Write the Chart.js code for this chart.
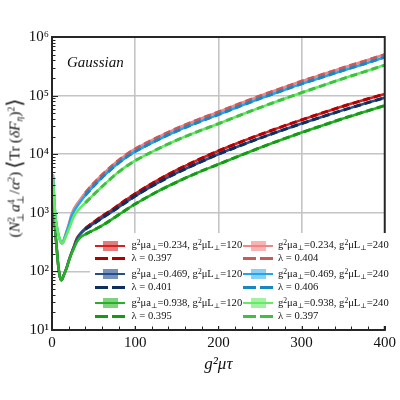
<!DOCTYPE html>
<html><head><meta charset="utf-8">
<script src="https://cdn.jsdelivr.net/npm/chart.js@4.4.0/dist/chart.umd.min.js"></script>
<style>
html,body{margin:0;padding:0;background:#fff;}
#wrap{position:relative;width:400px;height:400px;overflow:hidden;font-family:'Liberation Serif','DejaVu Serif',serif;color:#111;}
canvas{position:absolute;left:0;top:0;}
.ov{position:absolute;white-space:nowrap;color:#111;}
#ytitle{left:15px;top:168px;font-size:15.5px;transform:translate(-50%,-50%) rotate(-90deg);transform-origin:50% 50%;}
#ytitle .st{display:inline-flex;flex-direction:column;vertical-align:middle;font-size:0.62em;line-height:0.95;margin:0 1px 0 0;}
#ytitle sup{font-size:0.62em;vertical-align:0.5em;line-height:0;}
#ytitle sub{font-size:0.62em;vertical-align:-0.3em;line-height:0;}
#ytitle .big{font-size:1.35em;vertical-align:-0.1em;}
#gauss{left:67px;top:54px;font-size:15px;font-style:italic;}
#legend{position:absolute;left:90px;top:233px;width:296px;height:93px;background:#fff;}
.lt{position:absolute;font-size:10.6px;line-height:12px;white-space:nowrap;}
.lt sup{font-size:0.72em;vertical-align:0.45em;line-height:0;}
.lt sub{font-size:0.65em;vertical-align:-0.3em;line-height:0;}
.pb{position:absolute;}
</style></head><body>
<div id="wrap"><canvas id="c" width="400" height="400"></canvas>
<div id="ytitle" class="ov">(<i>N</i><span class="st"><span>2</span><span>⊥</span></span><i>a</i><span class="st"><span>4</span><span>⊥</span></span>/<i>α</i><sup>2</sup>)&thinsp;<span class="big">⟨</span>Tr&thinsp;(<i>δF</i><sub><i>η</i></sub>)<sup>2</sup><span class="big">⟩</span></div>
<div id="gauss" class="ov">Gaussian</div>
<div id="legend"></div>
</div>
<script>
// ---- data ----
const xs = [1,2,3,4,5,6,7,8,9,10,11,12,13,14,16,18,20,23,26,30,35,40,50,60,70,80,90,100,125,150,175,200,225,250,275,300,325,350,375,400];
const xsFit = [40,50,60,70,80,90,100,125,150,175,200,225,250,275,300,325,350,375,400];

// L=120 group
const red120 = [4000,1800,800,480,320,220,150,110,88,76,71,73,78,85,100,120,150,200,260,370,460,540,690,871,1072,1349,1698,2113,3467,5370,7943,11350,15800,21600,29000,38500,50600,65800,84100,107000];
const blue120 = [4000,1800,800,480,320,220,150,110,88,76,71,73,78,85,100,120,149,198,255,360,450,525,650,813,1000,1245,1549,1928,3126,4786,7000,10000,13800,18800,25200,33300,43600,56500,72300,92000];
const green120 = [4000,1800,800,480,320,220,150,110,88,76,71,73,78,85,99,118,146,192,240,320,390,430,505,603,741,923,1148,1413,2239,3350,4842,6730,9330,12900,17500,23400,30900,40700,52500,67600];
// L=240 group
const pink240 = [4500,2500,1400,880,680,560,470,410,365,332,312,303,309,339,417,513,631,891,1148,1413,1778,2188,3162,4416,5957,7852,10000,12300,18840,27540,38460,52480,72440,98850,131800,175800,229100,298500,384600,501200];
const lblue240 = [4500,2500,1400,880,680,560,470,410,365,332,312,303,309,335,403,490,596,832,1035,1274,1603,1972,2851,3981,5370,7079,9016,11090,16980,24830,34670,47320,65310,89130,118900,158500,206500,269200,346700,451900];
const lgreen240 = [4500,2500,1400,880,680,560,470,410,365,332,312,303,305,324,372,437,513,661,851,1047,1259,1479,2042,2786,3758,4955,6310,7762,11890,17380,24270,33110,45710,62370,84140,112200,147900,195000,254100,331100];

// fits (dashed)
const fitRed120 = [540,690,871,1072,1349,1698,2113,3467,5370,7943,11350,15800,21600,29000,38500,50600,65800,84100,107000];
const fitBlue120 = [525,650,813,1000,1245,1549,1928,3126,4786,7000,10000,13800,18800,25200,33300,43600,56500,72300,92000];
const fitGreen120 = [430,505,603,741,923,1148,1413,2239,3350,4842,6730,9330,12900,17500,23400,30900,40700,52500,67600];
const fitPink240 = [2188,3162,4416,5957,7852,10000,12300,18840,27540,38460,52480,72440,98850,131800,175800,229100,298500,384600,501200];
const fitLblue240 = [1972,2851,3981,5370,7079,9016,11090,16980,24830,34670,47320,65310,89130,118900,158500,206500,269200,346700,451900];
const fitLgreen240 = [1479,2042,2786,3758,4955,6310,7762,11890,17380,24270,33110,45710,62370,84140,112200,147900,195000,254100,331100];

const spacings = ['0.234','0.469','0.938'];
const boxSizes = ['120','240'];
const lambdas = ['0.397','0.401','0.395','0.404','0.406','0.397'];
const xTickLabels = ['0','100','200','300','400'];
const yTickExps = [1,2,3,4,5,6];

// ---- styles ----
const lineCols = ['#d42222','#244f8c','#26b026','#f08585','#1fa6ee','#62ec62'];
const bandCols = ['rgba(222,90,90,0.8)','rgba(85,120,170,0.8)','rgba(95,200,95,0.8)','rgba(246,160,160,0.8)','rgba(110,195,240,0.8)','rgba(140,238,140,0.8)'];
const fitCols = ['#b00000','#0c2f60','#149a14','#cc5858','#1a86c2','#40c040'];

const solids = [red120,blue120,green120,pink240,lblue240,lgreen240];
const fits = [fitRed120,fitBlue120,fitGreen120,fitPink240,fitLblue240,fitLgreen240];

const pts = (xv, yv) => xv.map((x,i)=>({x:x,y:yv[i]}));
const datasets = [];
for (let g=0; g<6; g++){
  datasets.push({label:'g2μa='+spacings[g%3]+', g2μL='+boxSizes[Math.floor(g/3)], data:pts(xs,solids[g]), borderColor:lineCols[g], borderWidth:2.6, pointRadius:0, cubicInterpolationMode:'monotone', clip:0});
  datasets.push({label:'λ = '+lambdas[g], data:pts(xsFit,fits[g]), borderColor:fitCols[g], borderWidth:3, borderDash:[7,4], pointRadius:0, cubicInterpolationMode:'monotone', clip:0});
}
datasets.forEach((d,i)=>{ d.order = 100 - i; });

const sup = ['⁰','¹','²','³','⁴','⁵','⁶','⁷'];
const isPow10 = v => { const l = Math.log10(v); return Math.abs(l-Math.round(l))<1e-9; };

const framePlugin = {
  id:'frame',
  afterDatasetsDraw(chart){
    const {ctx, chartArea:{left,right,top,bottom}, scales:{x,y}} = chart;
    ctx.save();
    ctx.strokeStyle = '#222';
    ctx.lineWidth = 1;
    ctx.beginPath();
    for (let v=0; v<=400; v+=20){
      const px = Math.round(x.getPixelForValue(v))+0.5;
      const len = (v%100===0)?6:3.5;
      ctx.moveTo(px,bottom); ctx.lineTo(px,bottom-len);
    }
    for (let e=1; e<=6; e++){
      for (let m=1; m<=9; m++){
        const v = m*Math.pow(10,e);
        if (v>1e6) break;
        const py = Math.round(y.getPixelForValue(v))+0.5;
        const len = (m===1)?6:3.5;
        ctx.moveTo(left,py); ctx.lineTo(left+len,py);
      }
    }
    ctx.stroke();
    ctx.lineWidth = 2;
    ctx.strokeStyle = '#262626';
    ctx.strokeRect(left, top, right-left, bottom-top);
    ctx.restore();
  }
};

Chart.defaults.font.family = "'Liberation Serif','DejaVu Serif',serif";
new Chart(document.getElementById('c'), {
  type:'line',
  data:{datasets:datasets},
  plugins:[framePlugin],
  options:{
    responsive:false, animation:false, devicePixelRatio:1,
    layout:{padding:{left:0,right:11,top:37,bottom:0}},
    plugins:{legend:{display:false}, tooltip:{enabled:false}},
    scales:{
      x:{type:'linear', min:0, max:400,
        afterFit(s){ s.height = 70; },
        border:{display:false},
        grid:{drawTicks:false, lineWidth:1.6, color:ctx => (ctx.tick && ctx.tick.value%100===0 && ctx.tick.value>0 && ctx.tick.value<400) ? '#c4c4c4' : 'rgba(0,0,0,0)'},
        ticks:{stepSize:20, autoSkip:false, maxRotation:0, padding:4, color:'#111', font:{size:15},
          callback:v => (v%100===0) ? xTickLabels[v/100] : ''},
        title:{display:true, text:'g²μτ', color:'#111', font:{size:17, style:'italic'}, padding:{top:0,bottom:25}}
      },
      y:{type:'logarithmic', min:10, max:1e6,
        afterFit(s){ s.width = 52; },
        afterBuildTicks(s){ const t=[]; for(let e=1;e<=6;e++){ for(let m=1;m<=9;m++){ const v=m*Math.pow(10,e); if(v>1e6) break; t.push({value:v}); } } s.ticks=t; },
        border:{display:false},
        grid:{drawTicks:false, lineWidth:1.6, color:ctx => (ctx.tick && isPow10(ctx.tick.value) && ctx.tick.value>10 && ctx.tick.value<1e6) ? '#c4c4c4' : 'rgba(0,0,0,0)'},
        ticks:{autoSkip:false, padding:3, color:'#111', font:{size:15},
          callback:v => { if(!isPow10(v)) return ''; const e=Math.round(Math.log10(v)); return yTickExps.includes(e) ? '10'+sup[e] : ''; }}
      }
    }
  }
});

// ---- legend (HTML text) ----
const leg = document.getElementById('legend');
const rowY = [12.5,25.5,41,54,70,83];
const colX = [{p:5,t:41.5},{p:153,t:188}];
function add(html, style, cls){ const d=document.createElement('div'); d.className=cls; d.style.cssText=style; d.innerHTML=html; leg.appendChild(d); }
for (let g=0; g<6; g++){
  const c = colX[Math.floor(g/3)];
  const r = g%3;
  const yS = rowY[r*2], yD = rowY[r*2+1];
  add('', `left:${c.p+8}px;top:${yS-5}px;width:15px;height:10px;background:${bandCols[g]};`, 'pb');
  add('', `left:${c.p}px;top:${yS-1}px;width:30px;height:2px;background:${lineCols[g]};`, 'pb');
  add('', `left:${c.p}px;top:${yD-1.5}px;width:13px;height:3px;background:${fitCols[g]};`, 'pb');
  add('', `left:${c.p+17}px;top:${yD-1.5}px;width:13px;height:3px;background:${fitCols[g]};`, 'pb');
  add(`g<sup>2</sup>μa<sub>⊥</sub>=${spacings[r]}, g<sup>2</sup>μL<sub>⊥</sub>=${boxSizes[Math.floor(g/3)]}`, `left:${c.t}px;top:${yS-6.5}px;`, 'lt');
  add(`λ = ${lambdas[g]}`, `left:${c.t}px;top:${yD-6.5}px;`, 'lt');
}
</script>
</body></html>
